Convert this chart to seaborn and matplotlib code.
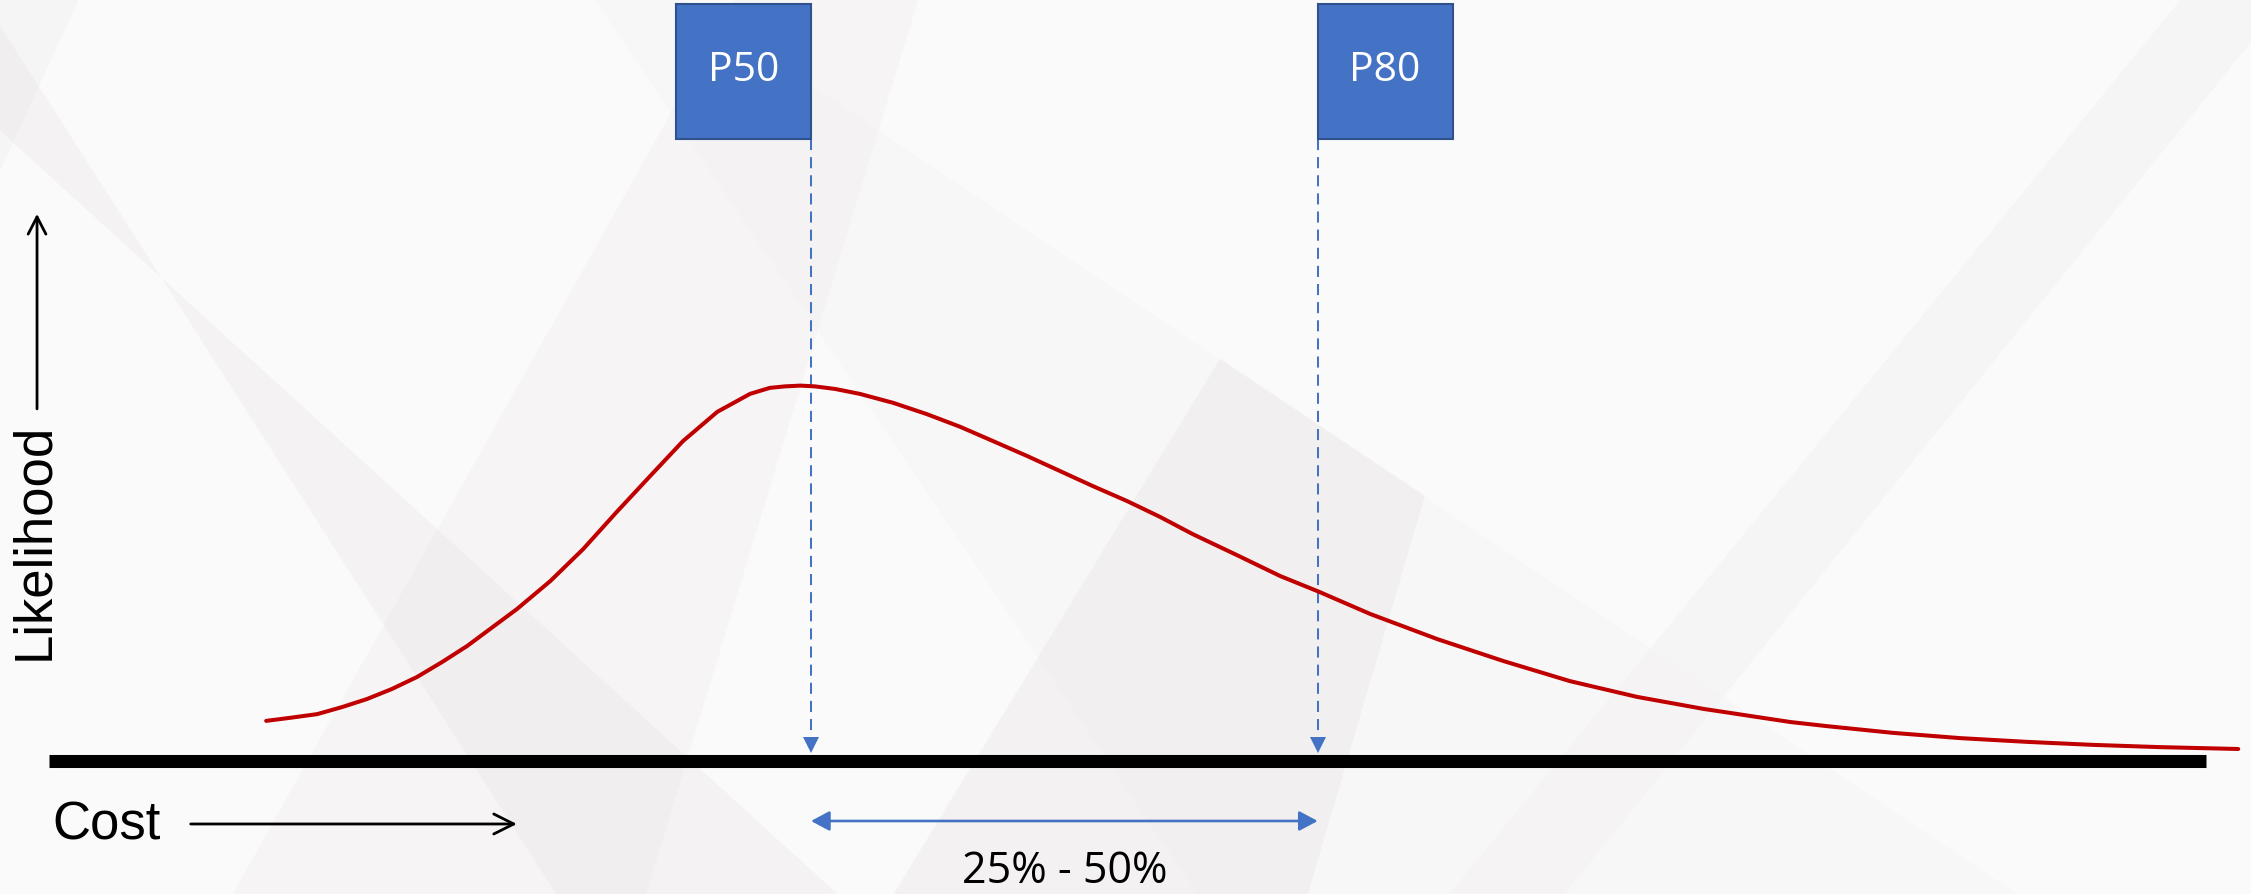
import matplotlib
matplotlib.use("Agg")
import matplotlib.pyplot as plt
from matplotlib.patches import Polygon
import seaborn as sns
import pandas as pd

# Cost distribution (cost in arbitrary units, likelihood scaled so the mode is ~1)
cost = [28.5, 31.6, 35.2, 38.5, 41.7, 45.0, 48.3, 51.6, 54.9, 61.4, 65.8, 70.1,
        74.5, 78.9, 83.2, 87.7, 92.0, 94.6, 96.6, 98.6, 100.5, 103.2, 106.4,
        110.8, 115.2, 119.6, 123.9, 128.4, 132.7, 137.0, 141.5, 145.8, 150.1,
        155.9, 161.6, 166.7, 173.4, 182.2, 190.8, 199.6, 208.4, 217.1, 228.5,
        233.3, 242.0, 250.8, 259.6, 268.2, 277.0, 287.3]
likelihood = [0.107, 0.115, 0.125, 0.144, 0.165, 0.192, 0.224, 0.264, 0.307,
              0.405, 0.480, 0.565, 0.664, 0.760, 0.853, 0.931, 0.979, 0.995,
              0.999, 1.001, 0.999, 0.992, 0.979, 0.955, 0.925, 0.891, 0.853,
              0.813, 0.773, 0.733, 0.693, 0.651, 0.605, 0.549, 0.493, 0.451,
              0.392, 0.325, 0.267, 0.213, 0.171, 0.139, 0.104, 0.093, 0.075,
              0.061, 0.051, 0.043, 0.037, 0.032]

p_labels = ["P50", "P80"]
p_values = [100.0, 166.5]
range_label = "25% - 50%"
x_label = "Cost"
y_label = "Likelihood"
axis_end = 283.1

BLUE = "#4472C4"
BLUE_EDGE = "#2F528F"
RED = "#C00000"
BG = "#fafafa"

sns.set_theme(style="white")
plt.rcParams["font.family"] = ["Open Sans", "DejaVu Sans"]

fig = plt.figure(figsize=(22.51, 8.95), dpi=100, facecolor=BG)
ax = fig.add_axes([0, 0, 1, 1])
ax.set_facecolor("none")
ax.set_axis_off()
ax.set_xlim(-6.43, 288.98)
ax.set_ylim(-0.3547, 2.032)

# faint slide-style facets behind everything (figure fraction coordinates)
facets = [
    [(0.000, 0.970), (0.247, 0.000), (0.372, 0.000), (0.000, 0.853)],
    [(0.1035, 0.000), (0.3265, 1.000), (0.408, 1.000), (0.287, 0.000)],
    [(0.542, 0.598), (0.633, 0.445), (0.581, 0.000), (0.397, 0.000)],
    [(0.264, 1.000), (0.303, 1.000), (0.896, 0.000), (0.532, 0.000)],
    [(0.969, 1.000), (1.000, 1.000), (1.000, 0.952), (0.695, 0.000),
     (0.644, 0.000)],
    [(0.000, 1.000), (0.035, 1.000), (0.000, 0.808)],
]
alphas = [0.30, 0.22, 0.35, 0.10, 0.18, 0.20]
for pts, a in zip(facets, alphas):
    ax.add_patch(Polygon(pts, closed=True, transform=fig.transFigure,
                         facecolor="#e8e2e5", edgecolor="none", alpha=a,
                         zorder=0))

# horizontal cost axis
ax.plot([0, axis_end], [0, 0], color="black", lw=9.4, solid_capstyle="butt",
        zorder=2)

# distribution curve
curve = pd.DataFrame({"cost": cost, "likelihood": likelihood})
sns.lineplot(data=curve, x="cost", y="likelihood", sort=False, ax=ax,
             color=RED, lw=2.9, zorder=4)

# percentile markers: flag box, dashed drop line and arrow tip
box_w, box_bottom, box_h = 17.7, 1.659, 0.36
for label, p, side in zip(p_labels, p_values, [-1, 1]):
    left = p - box_w if side < 0 else p
    ax.bar(left, box_h, width=box_w, bottom=box_bottom, align="edge",
           color=BLUE, edgecolor=BLUE_EDGE, linewidth=1.5, zorder=5)
    ax.text(left + box_w / 2, box_bottom + box_h / 2 + 0.004, label,
            color="white", fontsize=29.5, ha="center", va="center",
            family=["Open Sans", "DejaVu Sans"], zorder=6)
    ax.plot([p, p], [box_bottom, 0.06], color=BLUE, lw=1.45,
            linestyle=(0, (5.5, 3.5)), zorder=3)
    ax.plot([p], [0.043], marker="v", markersize=11, color=BLUE,
            markeredgewidth=0, zorder=3)

# range between the two percentiles
ax.annotate("", xy=(p_values[1], -0.16), xytext=(p_values[0], -0.16),
            arrowprops=dict(arrowstyle="<|-|>,head_length=0.75,head_width=0.4",
                            color=BLUE, lw=1.9, shrinkA=0, shrinkB=0,
                            mutation_scale=15))
ax.text(sum(p_values) / 2, -0.293, range_label, fontsize=31, color="black",
        ha="center", va="center", family=["Open Sans", "DejaVu Sans"])

# axis captions with direction arrows
ax.text(0.4, -0.208, x_label, fontsize=38, color="black", ha="left",
        va="baseline", family=["Liberation Sans", "DejaVu Sans"])
ax.annotate("", xy=(61.4, -0.168), xytext=(18.6, -0.168),
            arrowprops=dict(arrowstyle="->,head_length=0.72,head_width=0.36",
                            color="black", lw=2.0, shrinkA=0, shrinkB=0,
                            mutation_scale=20))
ax.text(-1.97, 0.587, y_label, fontsize=38, color="black", rotation=90,
        ha="center", va="center", family=["Liberation Sans", "DejaVu Sans"])
ax.annotate("", xy=(-1.57, 1.459), xytext=(-1.57, 0.939),
            arrowprops=dict(arrowstyle="->,head_length=0.62,head_width=0.32",
                            color="black", lw=2.0, shrinkA=0, shrinkB=0,
                            mutation_scale=20))

fig.savefig("out.png", dpi=100, facecolor=BG)
